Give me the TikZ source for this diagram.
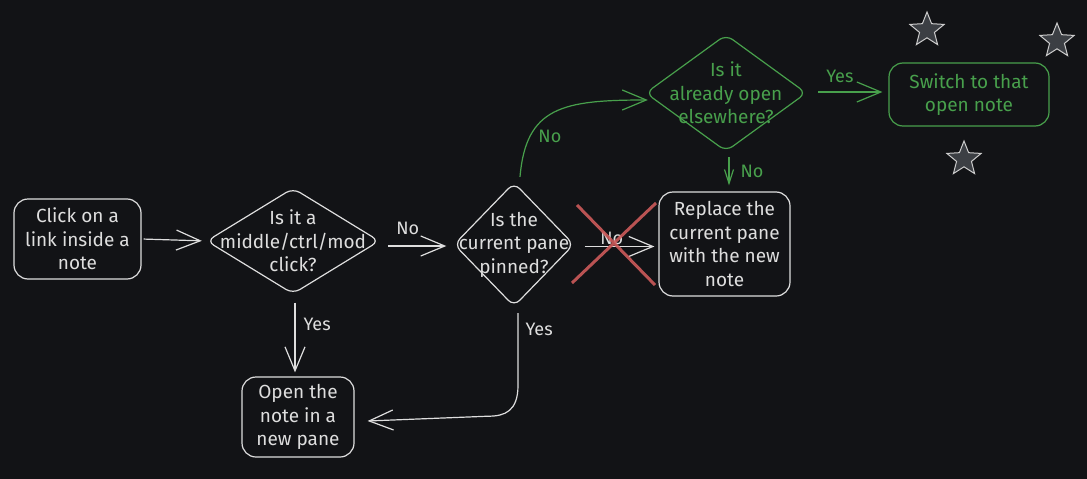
\documentclass[tikz,border=0pt]{standalone}
\usepackage{fontspec}
\setmainfont{Fira Sans}
\usepackage{tikz}
\usetikzlibrary{arrows.meta, shapes.geometric, calc}

\definecolor{bg}{RGB}{18,19,22}
\definecolor{chalk}{RGB}{222,222,222}
\definecolor{leaf}{RGB}{72,160,76}
\definecolor{cross}{RGB}{205,90,90}
\definecolor{starfill}{RGB}{60,63,68}
\definecolor{starline}{RGB}{205,205,205}

\begin{document}
\begin{tikzpicture}[x=1pt, y=-1pt,
		every node/.style={font=\fontsize{19}{23.5}\selectfont, text=chalk},
		box/.style={draw=chalk, line width=1.2pt, rounded corners=14pt, align=center, inner sep=0pt},
		ask/.style={align=center, inner sep=0pt},
		flow/.style={draw=chalk, line width=1.2pt, -{Straight Barb[length=24pt, width=20pt, line width=1.2pt]}},
		tag/.style={font=\fontsize{18}{20}\selectfont, inner sep=2pt},
		starry/.style={star, star points=5, star point ratio=2.3, minimum size=36pt, inner sep=0pt, fill=starfill, draw=starline, line width=1pt}]
		\fill[bg] (0, 0) rectangle (1087, 479);
		% boxes
		\node[box, minimum width=127pt, minimum height=80pt] (click) at (77.5, 239) {Click on a\\link inside a\\note};
		\node[box, minimum width=112pt, minimum height=80pt] (newpane) at (298, 417) {Open the\\note in a\\new pane};
		\node[box, minimum width=131pt, minimum height=104pt] (replace) at (724.5, 244) {Replace the\\current pane\\with the new\\note};
		\node[box, draw=leaf, text=leaf, minimum width=160pt, minimum height=63pt] (switch) at (969, 94.5) {Switch to that\\open note};
		% questions
		\node[ask, minimum width=172pt, minimum height=105pt] (qmod) at (293, 241) {Is it a\\middle/ctrl/mod\\click?};
		\node[ask, minimum width=119pt, minimum height=123pt] (qpin) at (514, 244.5) {Is the\\current pane\\pinned?};
		\node[ask, text=leaf, minimum width=160pt, minimum height=116pt] (qopen) at (726, 93) {Is it\\already open\\elsewhere?};
		\foreach \q/\c in {qmod/chalk, qpin/chalk, qopen/leaf}
			\draw[\c, line width=1.2pt, rounded corners=8pt] (\q.north) -- (\q.east) -- (\q.south) -- (\q.west) -- cycle;
		% arrows
		\draw[flow, shorten <=2pt, shorten >=5pt] (click.east) -- (qmod.west);
		\draw[flow, shorten <=9pt, shorten >=8pt] ([yshift=-5pt]qmod.east) -- ([yshift=-5pt]qmod.east -| qpin.west) node[tag, pos=0.38, above=9pt] {No};
		\draw[flow, shorten <=11pt, shorten >=4pt] ([yshift=-2pt]qpin.east) -- ([yshift=-2pt]qpin.east -| replace.west) node[tag, pos=0.45, above=-1pt] {No};
		\draw[flow, shorten <=9pt, shorten >=4pt] ([xshift=2pt]qmod.south) -- ([xshift=2pt]qmod.south |- newpane.north) node[tag, pos=0.37, right=6pt] {Yes};
		\draw[flow, shorten <=7pt] ([xshift=4pt]qpin.south) -- ++(0, 79) node[tag, pos=0.3, right=5pt] {Yes} .. controls +(0, 26) and +(17, 0) .. ++(-30, 31) -- ([shift={(13, 4)}]newpane.east);
		\draw[flow, leaf] ([shift={(6, -6)}]qpin.north) .. controls +(6, -70) and +(-85, 0) .. ([shift={(2, 7)}]qopen.west) node[tag, text=leaf, pos=0.24, right=6pt] {No};
		\draw[flow, leaf, shorten <=12pt, shorten >=6pt] ([yshift=1pt]qopen.east) -- ([yshift=1pt]qopen.east -| switch.west) node[tag, text=leaf, pos=0.41, above=7pt] {Yes};
		\draw[flow, leaf, shorten <=6pt, shorten >=6pt, -{Straight Barb[length=14pt, width=9pt, line width=1.2pt]}] ([xshift=3pt]qopen.south) -- ([xshift=3pt]qopen.south |- replace.north) node[tag, text=leaf, midway, right=9pt] {No};
		% crossed out
		\draw[cross, line width=3pt, opacity=0.9] (577, 205) -- (655, 285) (572, 283) -- (656, 203);
		% stars
		\node[starry] (star1) at (927, 30) {};
		\node[starry] (star2) at (1057, 41) {};
		\node[starry] (star3) at (964, 159) {};
\end{tikzpicture}
\end{document}
